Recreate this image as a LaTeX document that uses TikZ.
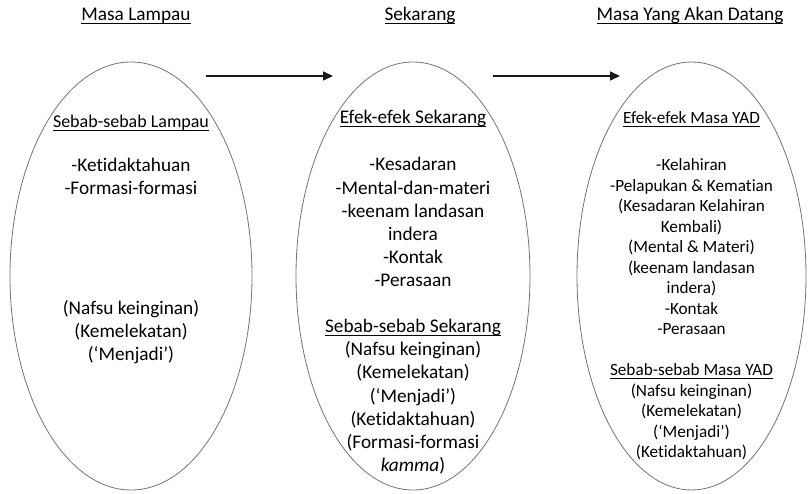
\documentclass[tikz,border=0pt]{standalone}
\usepackage{fontspec}
\setmainfont[Ligatures=NoCommon]{Carlito}
\usetikzlibrary{arrows.meta,shapes.geometric}
\newcommand\ulx[1]{\setbox0\hbox{#1}\rlap{\rule[-3.2pt]{\wd0}{1pt}}\box0}
\begin{document}
\begin{tikzpicture}[x=1pt,y=-1pt,
  oval/.style={draw=black!55, line width=0.8pt, ellipse, inner sep=0pt},
  big/.style={font=\fontsize{19.3}{23}\selectfont, anchor=base, inner sep=0pt, text=black},
  small/.style={font=\fontsize{17.2}{20.5}\selectfont, anchor=base, inner sep=0pt, text=black},
  hdr/.style={font=\fontsize{18}{22}\selectfont, anchor=base, inner sep=0pt, text=black},
  flow/.style={line width=1.5pt, draw=black!90, -{Triangle[length=10pt,width=9pt]}}]
\useasboundingbox (0,0) rectangle (808,494);

% ellipses
\node[oval, minimum width=242pt, minimum height=428pt] (e1) at (131,276) {};
\node[oval, minimum width=234pt, minimum height=428pt] (e2) at (413,276) {};
\node[oval, minimum width=229pt, minimum height=428pt] (e3) at (691.5,276) {};

% titles
\node[big] (t1) at (136,21) {\ulx{Masa Lampau}};
\node[big] (t2) at (420,21) {\ulx{Sekarang}};
\node[big] (t3) at (690,21) {\ulx{Masa Yang Akan Datang}};

% arrows
\coordinate (a1s) at (206,76);
\coordinate (a1e) at (333,76);
\coordinate (a2s) at (493,76);
\coordinate (a2e) at (620,76);
\draw[flow] (a1s) -- (a1e);
\draw[flow] (a2s) -- (a2e);

% ellipse 1
\node[hdr] (p0) at (131,128) {\ulx{Sebab-sebab Lampau}};
\node[big] (p1) at (131,171.5) {-Ketidaktahuan};
\node[big] (p2) at (131,194.5) {-Formasi-formasi};
\node[big] (p3) at (131,314.5) {(Nafsu keinginan)};
\node[big] (p4) at (131,337.5) {(Kemelekatan)};
\node[big] (p5) at (131,360.5) {(‘Menjadi’)};

% ellipse 2
\node[big] (s0) at (413,124) {\ulx{Efek-efek Sekarang}};
\node[big] (s1) at (413,171) {-Kesadaran};
\node[big] (s2) at (413,194.1) {-Mental-dan-materi};
\node[big] (s3) at (413,217.2) {-keenam landasan};
\node[big] (s4) at (413,240.3) {indera};
\node[big] (s5) at (413,263.4) {-Kontak};
\node[big] (s6) at (413,286.5) {-Perasaan};
\node[big] (s7) at (413,332.7) {\ulx{Sebab-sebab Sekarang}};
\node[big] (s8) at (413,355.8) {(Nafsu keinginan)};
\node[big] (s9) at (413,378.9) {(Kemelekatan)};
\node[big] (s10) at (413,402) {(‘Menjadi’)};
\node[big] (s11) at (413,425.1) {(Ketidaktahuan)};
\node[big] (s12) at (413,448.2) {(Formasi-formasi};
\node[big] (s13) at (413,471.3) {\textit{kamma})};

% ellipse 3
\node[small] (f0) at (691.5,124) {\ulx{Efek-efek Masa YAD}};
\node[small] (f1) at (691.5,170.7) {-Kelahiran};
\node[small] (f2) at (691.5,191.2) {-Pelapukan \& Kematian};
\node[small] (f3) at (691.5,211.7) {(Kesadaran Kelahiran};
\node[small] (f4) at (691.5,232.2) {Kembali)};
\node[small] (f5) at (691.5,252.7) {(Mental \& Materi)};
\node[small] (f6) at (691.5,273.2) {(keenam landasan};
\node[small] (f7) at (691.5,293.7) {indera)};
\node[small] (f8) at (691.5,314.2) {-Kontak};
\node[small] (f9) at (691.5,334.7) {-Perasaan};
\node[small] (f10) at (691.5,375.7) {\ulx{Sebab-sebab Masa YAD}};
\node[small] (f11) at (691.5,396.2) {(Nafsu keinginan)};
\node[small] (f12) at (691.5,416.7) {(Kemelekatan)};
\node[small] (f13) at (691.5,437.2) {(‘Menjadi’)};
\node[small] (f14) at (691.5,457.7) {(Ketidaktahuan)};
\end{tikzpicture}
\end{document}
